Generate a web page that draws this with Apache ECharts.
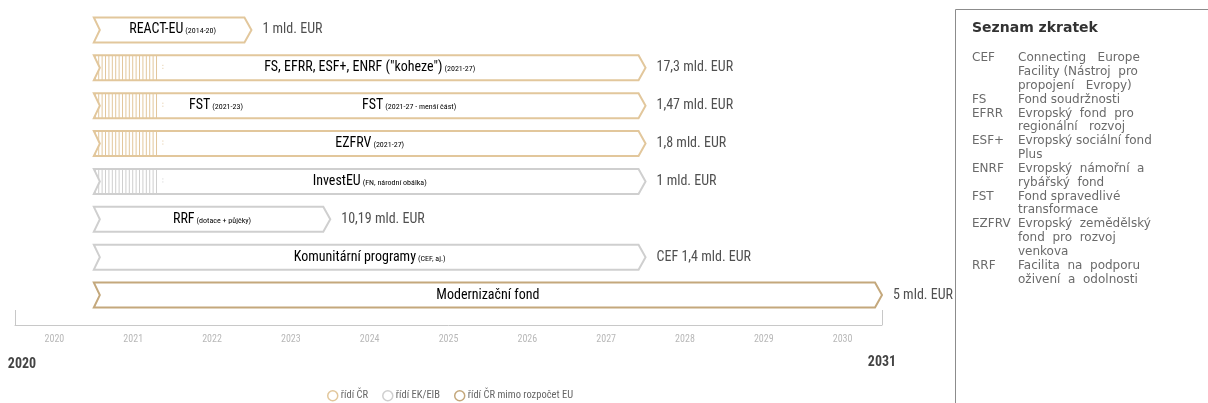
<!DOCTYPE html>
<html>
<head>
<meta charset="utf-8">
<script src="https://cdn.jsdelivr.net/npm/echarts@6/dist/echarts.min.js"></script>
<style>
  html, body { margin: 0; padding: 0; background: #fff; }
  #chart { width: 1208px; height: 403px; }
</style>
</head>
<body>
<div id="chart"></div>
<script>
// rows of the timeline (top to bottom)
const programs = ['REACT-EU', 'FS, EFRR, ESF+, ENRF ("koheze")', 'FST', 'EZFRV', 'InvestEU', 'RRF', 'Komunitární programy', 'Modernizační fond']
const notes = ['(2014-20)', '(2021-27)', '(2021-23)', '(2021-27)', '(FN, národní obálka)', '(dotace + půjčky)', '(CEF, aj.)', '']
const starts = [2021, 2021, 2021, 2021, 2021, 2021, 2021, 2021]
const ends = [2023, 2028, 2028, 2028, 2028, 2024, 2028, 2031]
const hatchEnds = [null, 2021.8, 2021.8, 2021.8, 2021.8, null, null, null]
const amounts = ['1 mld. EUR', '17,3 mld. EUR', '1,47 mld. EUR', '1,8 mld. EUR', '1 mld. EUR', '10,19 mld. EUR', 'CEF 1,4 mld. EUR', '5 mld. EUR']
// 0 = řídí ČR, 1 = řídí EK/EIB, 2 = řídí ČR mimo rozpočet EU
const groups = [0, 0, 0, 0, 1, 1, 1, 2]
const groupNames = ['řídí ČR', 'řídí EK/EIB', 'řídí ČR mimo rozpočet EU']
// FST row carries a second label (rest of the period)
const extraLabels = [null, null, {main: 'FST', note: '(2021-27 - menší část)', at: 2025}, null, null, null, null, null]
const firstLabelAt = [null, null, 2022.55, null, null, null, null, null]

const years = ['2020', '2021', '2022', '2023', '2024', '2025', '2026', '2027', '2028', '2029', '2030']

// abbreviations box
const abbrs = [
  ['CEF', ['Connecting   Europe', 'Facility (Nástroj  pro', 'propojení   Evropy)']],
  ['FS', ['Fond soudržnosti']],
  ['EFRR', ['Evropský  fond  pro', 'regionální   rozvoj']],
  ['ESF+', ['Evropský sociální fond', 'Plus']],
  ['ENRF', ['Evropský  námořní  a', 'rybářský  fond']],
  ['FST', ['Fond spravedlivé', 'transformace']],
  ['EZFRV', ['Evropský  zemědělský', 'fond  pro  rozvoj', 'venkova']],
  ['RRF', ['Facilita  na  podporu', 'oživení  a  odolnosti']]
]

const colors = ['#e2c79c', '#cfcfcf', '#c4a87c']
const FONT = '"Roboto Condensed", "Liberation Sans Narrow", "DejaVu Sans Condensed", Roboto, sans-serif'
const BOXFONT = '"DejaVu Sans", Verdana, sans-serif'

function renderBar(params, api) {
  const row = api.value(2)
  const x0 = api.coord([api.value(0), row])[0]
  const xe = api.coord([api.value(1), row])[0]
  const mid = api.coord([api.value(0), row])[1]
  const h = api.size([0, 1])[1] * 0.66
  const top = mid - h / 2, bottom = mid + h / 2
  const tip = 7, notch = 6
  const col = colors[groups[row]]
  const children = [{
    type: 'polygon',
    shape: {points: [[x0, top], [xe - tip, top], [xe, mid], [xe - tip, bottom], [x0, bottom], [x0 + notch, mid]]},
    style: {fill: '#fff', stroke: col, lineWidth: 2}
  }]
  const he = api.value(3)
  if (he && !isNaN(he)) {
    const xh = api.coord([he, row])[0]
    for (let x = x0 + 1.5; x <= xh; x += 3.4) {
      const d = x - x0
      if (d < notch) {
        const gap = (h / 2) * (1 - d / notch)
        children.push({type: 'line', shape: {x1: x, y1: top, x2: x, y2: mid - gap}, style: {stroke: col, lineWidth: 1}})
        children.push({type: 'line', shape: {x1: x, y1: mid + gap, x2: x, y2: bottom}, style: {stroke: col, lineWidth: 1}})
      } else {
        children.push({type: 'line', shape: {x1: x, y1: top, x2: x, y2: bottom}, style: {stroke: col, lineWidth: 1}})
      }
    }
    children.push({type: 'line', shape: {x1: xh + 6, y1: mid - 3, x2: xh + 6, y2: mid + 1}, style: {stroke: col, lineWidth: 1, lineDash: [1, 2]}})
  }
  const rich = {
    m: {fontFamily: FONT, fontSize: 14, color: '#555'},
    s: {fontFamily: FONT, fontSize: 8, color: '#8e8e8e', padding: [3, 0, 0, 2]}
  }
  const lx = firstLabelAt[row] ? api.coord([firstLabelAt[row], row])[0] : (x0 + xe) / 2
  children.push({
    type: 'text',
    style: {
      x: lx, y: mid, align: 'center', verticalAlign: 'middle',
      text: '{m|' + programs[row] + '}' + (notes[row] ? '{s|' + notes[row] + '}' : ''),
      rich: rich
    }
  })
  const ex = extraLabels[row]
  if (ex) {
    children.push({
      type: 'text',
      style: {
        x: api.coord([ex.at, row])[0], y: mid, align: 'center', verticalAlign: 'middle',
        text: '{m|' + ex.main + '}{s|' + ex.note + '}', rich: rich
      }
    })
  }
  children.push({
    type: 'text',
    style: {
      x: xe + 11, y: mid, align: 'left', verticalAlign: 'middle',
      text: amounts[row], fontFamily: FONT, fontSize: 14, fill: '#505050'
    }
  })
  return {type: 'group', children: children}
}

const series = groupNames.map((name, g) => {
  const data = []
  for (let i = 0; i < programs.length; i++) {
    if (groups[i] === g) data.push([starts[i], ends[i], i, hatchEnds[i] == null ? NaN : hatchEnds[i]])
  }
  return {
    name: name,
    type: 'custom',
    renderItem: renderBar,
    encode: {x: [0, 1], y: 2},
    itemStyle: {color: colors[g]},
    data: data,
    xAxisIndex: 0,
    yAxisIndex: 0
  }
})

// right hand box with abbreviations
const boxItems = [
  {type: 'line', shape: {x1: 955.5, y1: 9.5, x2: 1208, y2: 9.5}, style: {stroke: '#8c8c8c', lineWidth: 1}},
  {type: 'line', shape: {x1: 955.5, y1: 9.5, x2: 955.5, y2: 403}, style: {stroke: '#8c8c8c', lineWidth: 1}},
  {type: 'text', left: 972, top: 21, style: {text: 'Seznam zkratek', font: 'bold 14px ' + BOXFONT, fill: '#333'}}
]
let ly = 52
abbrs.forEach(([ab, lines]) => {
  boxItems.push({type: 'text', left: 972, top: ly, style: {text: ab, font: '12px ' + BOXFONT, fill: '#6a6a6a'}})
  lines.forEach(t => {
    boxItems.push({type: 'text', left: 1018, top: ly, style: {text: t, font: '12px ' + BOXFONT, fill: '#6a6a6a'}})
    ly += 13.85
  })
})

const chart = echarts.init(document.getElementById('chart'))
chart.setOption({
  animation: false,
  grid: {left: 15, right: 326, top: 11, bottom: 89, outerBoundsMode: 'none', containLabel: false},
  legend: {
    left: 322, top: 385,
    icon: 'circle', itemWidth: 10, itemHeight: 10, itemGap: 14,
    textStyle: {fontFamily: FONT, fontSize: 10.5, color: '#666', padding: [0, 0, 0, -2]},
    data: groupNames.map((n, g) => ({name: n, itemStyle: {color: '#fff', borderColor: colors[g], borderWidth: 1.5}}))
  },
  xAxis: [
    {
      type: 'value', min: 2020, max: 2031, interval: 11, offset: 11,
      axisLine: {show: false},
      axisTick: {show: true, inside: true, length: 15, lineStyle: {color: '#c8c8c8'}},
      splitLine: {show: false},
      axisLabel: {
        fontFamily: FONT, fontSize: 14, fontWeight: 'bold', color: '#444', margin: 30,
        formatter: v => v === 2020 ? '{p|2020}' : String(v),
        rich: {p: {fontFamily: FONT, fontSize: 14, fontWeight: 'bold', color: '#444', padding: [2, 0, 0, 14]}}
      }
    },
    {
      type: 'category', data: years, position: 'bottom', offset: 11, boundaryGap: true,
      axisLine: {lineStyle: {color: '#c8c8c8'}},
      axisTick: {length: 15, interval: 0, lineStyle: {color: '#c8c8c8'}},
      axisLabel: {fontFamily: FONT, fontSize: 10, color: '#b8b8b8', margin: 9, interval: 0}
    }
  ],
  yAxis: {type: 'category', data: programs, inverse: true, show: false},
  graphic: boxItems,
  series: series
})
</script>
</body>
</html>
